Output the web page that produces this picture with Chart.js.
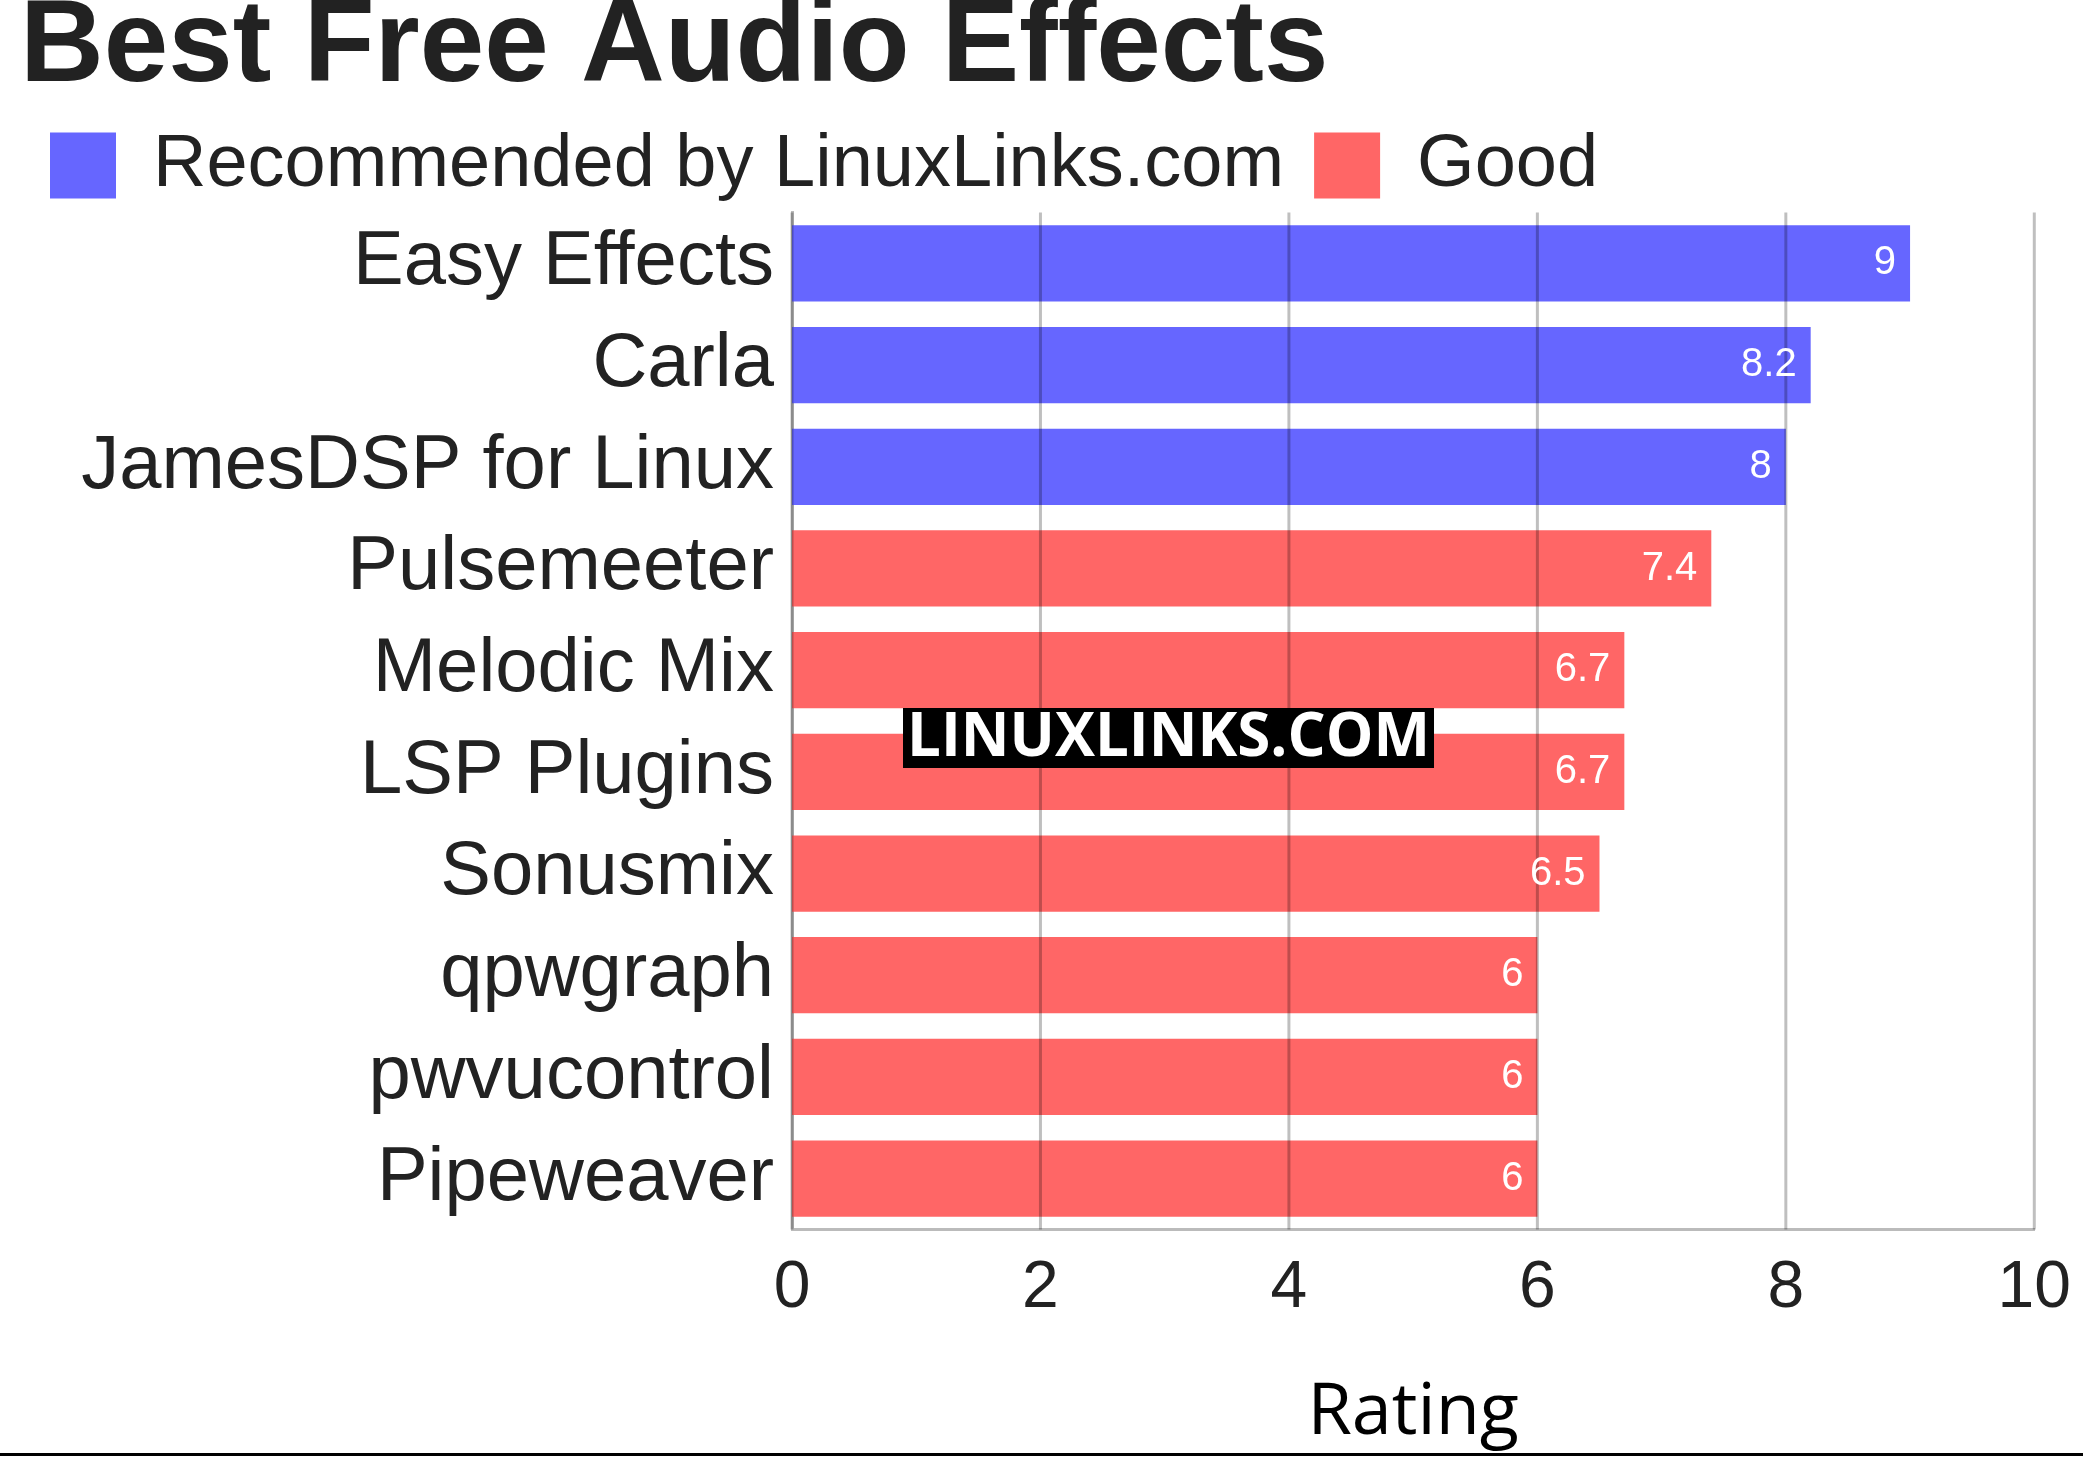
<!DOCTYPE html>
<html><head><meta charset="utf-8">
<script src="https://cdn.jsdelivr.net/npm/chart.js@4"></script>
<style>html,body{margin:0;padding:0;background:#fff}#w{width:2083px;height:1457px;position:relative}</style>
</head><body><div id="w"><canvas id="c"></canvas></div>
<script>
const categories=["Easy Effects","Carla","JamesDSP for Linux","Pulsemeeter","Melodic Mix","LSP Plugins","Sonusmix","qpwgraph","pwvucontrol","Pipeweaver"];
const recommended=[9,8.2,8,null,null,null,null,null,null,null];
const good=[null,null,null,7.4,6.7,6.7,6.5,6,6,6];
const xTicks=[0,2,4,6,8,10];

const overlay={id:'overlay',
 afterDatasetsDraw(ch){
  const ctx=ch.ctx,x=ch.scales.x,a=ch.chartArea;
  ctx.save();
  ctx.strokeStyle='rgba(0,0,0,0.25)';ctx.lineWidth=3;
  xTicks.forEach(t=>{const px=x.getPixelForValue(t);ctx.beginPath();ctx.moveTo(px,a.top);ctx.lineTo(px,a.bottom);ctx.stroke();});
  ctx.font='40px "Liberation Sans"';ctx.fillStyle='#fff';ctx.textAlign='right';ctx.textBaseline='middle';
  ch.data.datasets.forEach((ds,i)=>{ch.getDatasetMeta(i).data.forEach((el,j)=>{const v=ds.data[j];if(v==null)return;ctx.fillText(String(v),el.x-14,el.y);});});
  ctx.font='bold 60px "Open Sans"';ctx.textAlign='left';
  const txt='LINUXLINKS.COM',w=ctx.measureText(txt).width;
  ctx.fillStyle='#000';ctx.fillRect(903,708,w+8,60);
  ctx.fillStyle='#fff';ctx.fillText(txt,907,739);
  ctx.restore();
 },
 afterDraw(ch){const ctx=ch.ctx;ctx.save();ctx.fillStyle='#000';ctx.fillRect(0,1453,2083,3);ctx.restore();}
};

new Chart(document.getElementById('c'),{
 type:'bar',
 data:{labels:categories,datasets:[
  {label:'Recommended by LinuxLinks.com',data:recommended,backgroundColor:'#6666ff',grouped:false,categoryPercentage:1,barPercentage:0.75},
  {label:'Good',data:good,backgroundColor:'#ff6666',grouped:false,categoryPercentage:1,barPercentage:0.75}]},
 options:{indexAxis:'y',responsive:true,maintainAspectRatio:false,animation:false,
  layout:{padding:{left:20,right:30,top:0,bottom:0}},
  plugins:{
   title:{display:true,text:'Best Free Audio Effects',align:'start',color:'#222',font:{family:'Liberation Sans',size:116,weight:'bold',lineHeight:0.85},padding:{top:0,bottom:0}},
   legend:{align:'start',labels:{color:'#222',font:{family:'Liberation Sans',size:74},boxWidth:66,boxHeight:66,padding:30}},
   tooltip:{enabled:false}},
  scales:{
   x:{min:0,max:10,ticks:{stepSize:2,color:'#222',font:{family:'Liberation Sans',size:66},padding:12},
      grid:{display:false},border:{color:'#bbb',width:3},
      title:{display:true,text:'Rating',color:'#000',font:{family:'Open Sans',size:72},padding:{top:30,bottom:0}}},
   y:{afterFit(s){s.width=772;},ticks:{color:'#222',font:{family:'Liberation Sans',size:76},padding:10},grid:{display:false},border:{color:'#bbb',width:3}}
  }},
 plugins:[overlay]
});
</script></body></html>
